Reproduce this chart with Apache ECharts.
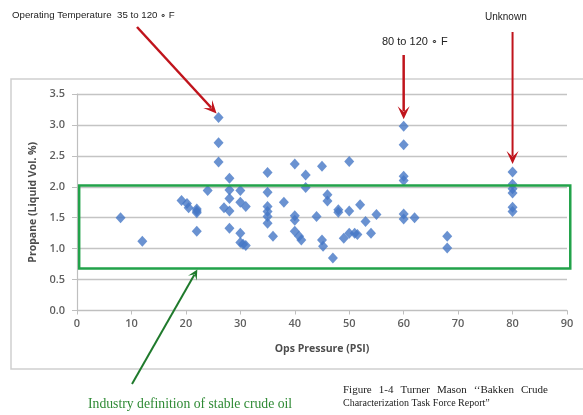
<!DOCTYPE html>
<html><head><meta charset="utf-8">
<script src="https://cdn.jsdelivr.net/npm/echarts@6/dist/echarts.min.js"></script>
<style>html,body{margin:0;padding:0;background:#fff}#c{width:583px;height:415px}</style>
</head><body><div id="c"></div><script>
// ---- data ----
const xTickLabels = ['0','10','20','30','40','50','60','70','80','90'];
const yTickLabels = ['0.0','0.5','1.0','1.5','2.0','2.5','3.0','3.5'];
const pressure = [
  8, 12,
  19.2, 20.2, 20.5,
  22, 22, 22, 22,
  24,
  26, 26, 26,
  28, 28, 28, 27, 28, 28,
  30, 30, 31, 30, 30, 31, 30.5,
  35, 35, 35, 35, 35, 35, 36,
  38,
  40, 40, 40, 40, 40.8, 41.2,
  42, 42,
  44,
  45, 45, 45.2,
  46, 46,
  47,
  48, 48,
  49, 50, 51, 51.5,
  50, 50,
  52, 53, 54, 55,
  60, 60, 60, 60, 60, 60, 62,
  68, 68,
  80, 80, 80, 80, 80, 80
];
const propane = [
  1.50, 1.12,
  1.78, 1.73, 1.66,
  1.64, 1.58, 1.61, 1.28,
  1.94,
  3.12, 2.71, 2.40,
  2.14, 1.95, 1.81, 1.66, 1.61, 1.33,
  1.94, 1.75, 1.68, 1.25, 1.10, 1.05, 1.07,
  2.23, 1.91, 1.68, 1.60, 1.52, 1.41, 1.20,
  1.75,
  2.37, 1.53, 1.46, 1.28, 1.20, 1.14,
  2.19, 1.99,
  1.52,
  2.33, 1.14, 1.04,
  1.87, 1.77,
  0.85,
  1.63, 1.59,
  1.17, 1.25, 1.25, 1.23,
  2.41, 1.61,
  1.71, 1.44, 1.25, 1.55,
  2.98, 2.68, 2.17, 2.10, 1.56, 1.48, 1.50,
  1.20, 1.01,
  2.24, 2.04, 1.97, 1.90, 1.67, 1.60
];
// stable-crude band (annotation box)
const stableBox = {xFrom: 0.4, xTo: 90.6, yFrom: 0.68, yTo: 2.02};

const chart = echarts.init(document.getElementById('c'), null, {renderer: 'canvas'});
const pts = pressure.map((p, i) => [p, propane[i]]);
const axisGray = '#bfbfbf';
const labelStyle = {color: '#5f5f5f', fontFamily: 'Open Sans', fontWeight: 600, fontSize: 11};

chart.setOption({
  animation: false,
  backgroundColor: '#fff',
  grid: {left: 77, right: 16, top: 94, bottom: 104.5},
  xAxis: {
    type: 'value', min: 0, max: 90, interval: 10,
    axisLine: {show: true, lineStyle: {color: axisGray, width: 1.2}},
    axisTick: {show: true, length: 4, lineStyle: {color: axisGray}},
    splitLine: {show: false},
    axisLabel: Object.assign({margin: 8, formatter: v => xTickLabels[Math.round(v / 10)]}, labelStyle),
    name: 'Ops Pressure (PSI)', nameLocation: 'middle', nameGap: 33,
    nameTextStyle: {color: '#4d4d4d', fontFamily: 'Open Sans', fontWeight: 700, fontSize: 10.5}
  },
  yAxis: {
    type: 'value', min: 0, max: 3.5, interval: 0.5,
    axisLine: {show: true, lineStyle: {color: axisGray, width: 1.2}},
    axisTick: {show: true, length: 5, lineStyle: {color: axisGray}},
    splitLine: {show: true, lineStyle: {color: '#c4c4c4', width: 1.4}},
    axisLabel: Object.assign({margin: 12, formatter: v => yTickLabels[Math.round(v / 0.5)]}, labelStyle),
    name: 'Propane (Liquid Vol. %)', nameLocation: 'middle', nameGap: 36, nameRotate: 90,
    nameTextStyle: {color: '#4d4d4d', fontFamily: 'Open Sans', fontWeight: 700, fontSize: 10.5}
  },
  series: [{
    type: 'scatter', data: pts, symbol: 'diamond', symbolSize: [10, 11],
    itemStyle: {color: '#4577c6'}, z: 5
  }]
});

const px = (x, y) => chart.convertToPixel({gridIndex: 0}, [x, y]);

function arrow(x1, y1, x2, y2, color, w, hl, hw) {
  const dx = x2 - x1, dy = y2 - y1, L = Math.hypot(dx, dy);
  const ux = dx / L, uy = dy / L, nx = -uy, ny = ux;
  const bx = x2 - ux * hl, by = y2 - uy * hl;
  return [
    {type: 'line', shape: {x1, y1, x2: x2 - ux * hl * 0.6, y2: y2 - uy * hl * 0.6},
     style: {stroke: color, lineWidth: w}, z: 20},
    {type: 'polygon', shape: {points: [[x2, y2], [bx + nx * hw, by + ny * hw], [x2 - ux * hl * 0.55, y2 - uy * hl * 0.55], [bx - nx * hw, by - ny * hw]]},
     style: {fill: color}, z: 20}
  ];
}

const b1 = px(stableBox.xFrom, stableBox.yTo), b2 = px(stableBox.xTo, stableBox.yFrom);
const t1 = px(26, 3.12), t2 = px(60, 2.98), t3 = px(80, 2.24), tg = px(22.1, stableBox.yFrom);
const red = '#c0141c', green = '#1f7a2c';

// caption line 1 is slightly spread across its width
const capFont = '11px "Liberation Serif", "Times New Roman", serif';
const ctx = document.createElement('canvas').getContext('2d');
ctx.font = capFont;
const capWords = ['Figure', '1-4', 'Turner', 'Mason', '\u2018\u2018Bakken', 'Crude'];
const capLeft = 343, capRight = 553;
const wW = capWords.map(w => ctx.measureText(w).width);
const gap = Math.min(7, (capRight - capLeft - wW.reduce((a, b) => a + b, 0)) / (capWords.length - 1));
let cx = capLeft;
const capTexts = capWords.map((w, i) => {
  const t = {type: 'text', x: cx, y: 390, style: {text: w, fill: '#222', font: capFont, textVerticalAlign: 'middle'}, z: 30};
  cx += wW[i] + gap;
  return t;
});

const gfx = [
  {type: 'rect', shape: {x: 11, y: 79, width: 590, height: 290},
   style: {fill: null, stroke: '#cfcfcf', lineWidth: 1.5}, z: 0},
  {type: 'rect', shape: {x: b1[0], y: b1[1], width: b2[0] - b1[0], height: b2[1] - b1[1]},
   style: {fill: null, stroke: '#22a24a', lineWidth: 2.5}, z: 10},
  ...arrow(137, 27, t1[0] - 2, t1[1] - 4, red, 2.5, 13, 6),
  ...arrow(t2[0], 55, t2[0], t2[1] - 7, red, 2.5, 13, 6),
  ...arrow(t3[0], 32, t3[0], t3[1] - 8, red, 2, 13, 6),
  ...arrow(132, 384, tg[0], tg[1] + 1, green, 2, 10, 5),
  {type: 'text', x: 12, y: 15, style: {text: 'Operating Temperature  35 to 120 \u2218 F', fill: '#222',
    font: '9.7px "Liberation Sans", Arial, sans-serif', textVerticalAlign: 'middle'}, z: 30},
  {type: 'text', x: 382, y: 42, style: {text: '80 to 120 \u2218 F', fill: '#222',
    font: '11px "Liberation Sans", Arial, sans-serif', textVerticalAlign: 'middle'}, z: 30},
  {type: 'text', x: 485, y: 17, style: {text: 'Unknown', fill: '#222',
    font: '10px "Liberation Sans", Arial, sans-serif', textVerticalAlign: 'middle'}, z: 30},
  {type: 'text', x: 88, y: 404, style: {text: 'Industry definition of stable crude oil', fill: '#2e8a34',
    font: '13.7px "Liberation Serif", "Times New Roman", serif', textVerticalAlign: 'middle'}, z: 30},
  ...capTexts,
  {type: 'text', x: 343, y: 403, style: {text: 'Characterization Task Force Report\u201D', fill: '#222',
    font: '10px "Liberation Serif", "Times New Roman", serif', textVerticalAlign: 'middle'}, z: 30}
];
chart.setOption({graphic: gfx});
</script></body></html>
